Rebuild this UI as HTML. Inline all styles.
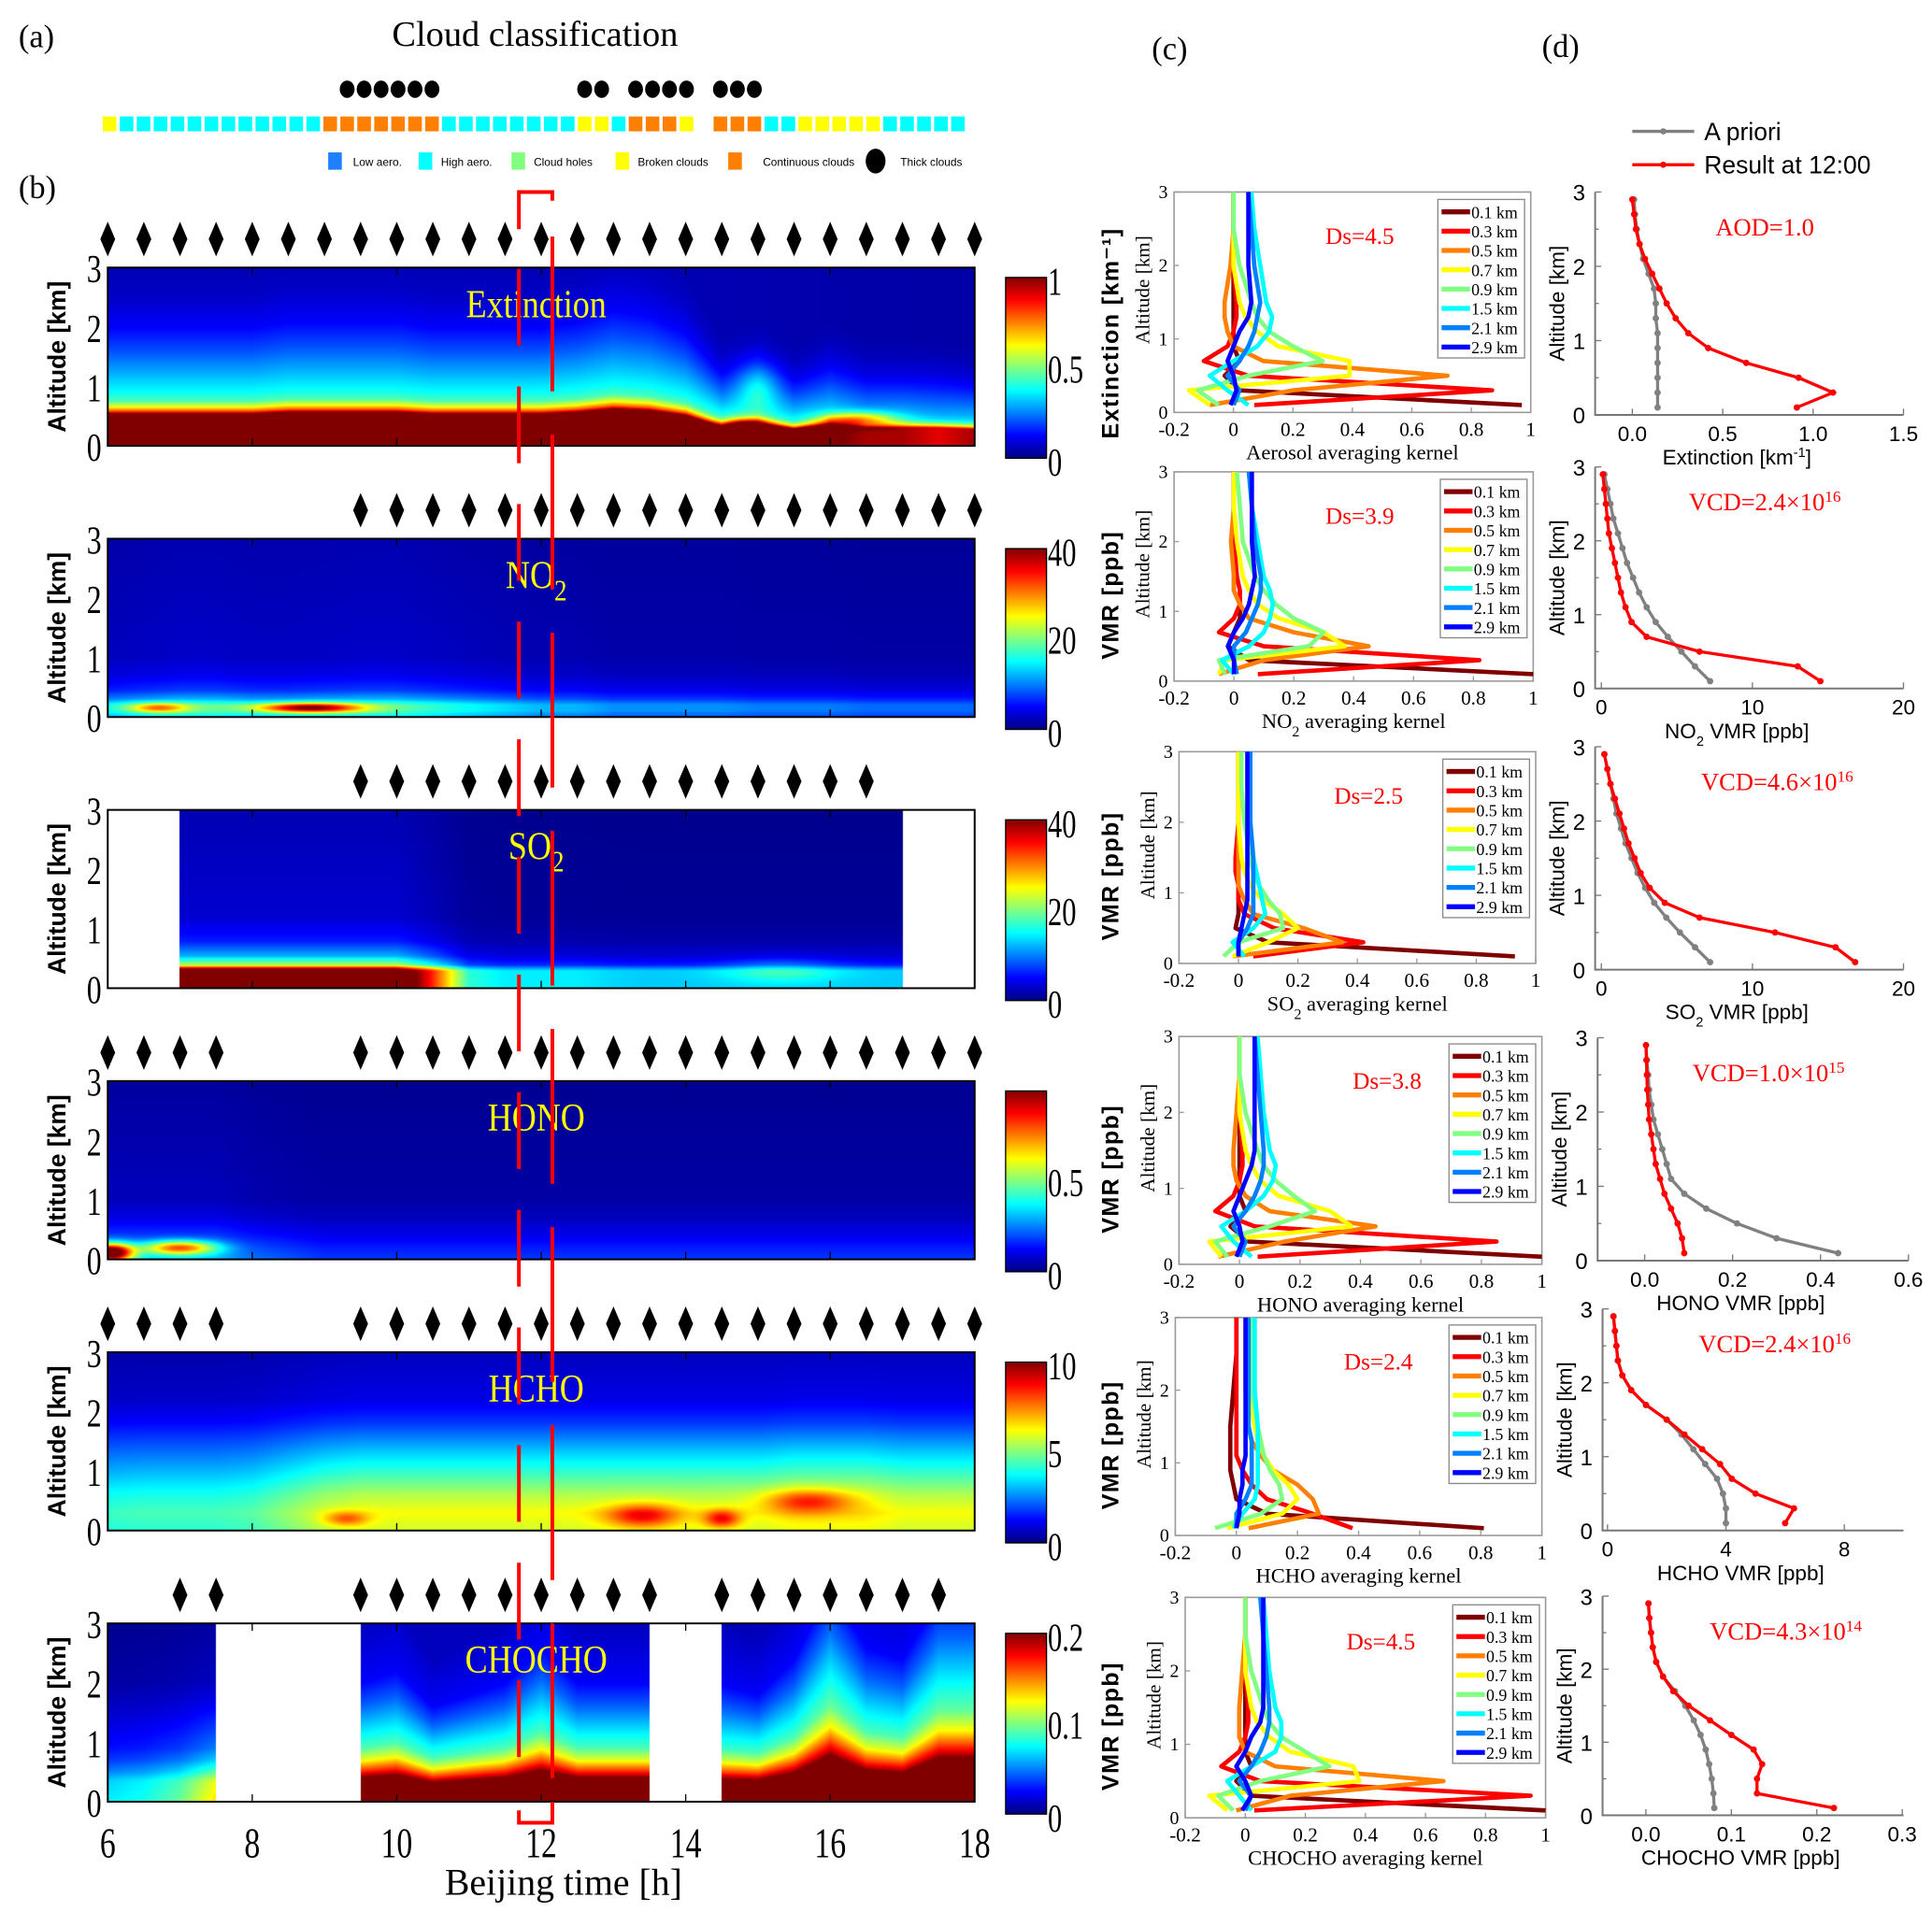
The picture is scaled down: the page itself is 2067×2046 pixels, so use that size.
<!DOCTYPE html>
<html><head><meta charset="utf-8"><style>
html,body{margin:0;padding:0;background:#fff}
#wrap{position:relative;width:2067px;height:2046px;overflow:hidden}
#wrap canvas{position:absolute}
svg{position:absolute;left:0;top:0}
text{font-family:"Liberation Serif",serif}
.sans{font-family:"Liberation Sans",sans-serif}
</style></head><body>
<div id="wrap">
<svg id="fig" width="2067" height="2046" viewBox="0 0 1560 1544">
<text x="15" y="38" font-size="26">(a)</text>
<text x="432" y="37" font-size="29" text-anchor="middle">Cloud classification</text>
<text x="15" y="160" font-size="26">(b)</text>
<text x="930" y="48" font-size="26">(c)</text>
<text x="1245" y="46" font-size="26">(d)</text>
<g id="cloud"></g>
<g id="cloudLegend" class="sans" font-size="9">
 <rect x="265" y="123" width="11" height="14" fill="#1e7fff"/><text x="285" y="134" class="sans">Low aero.</text>
 <rect x="338" y="123" width="11" height="14" fill="#00ffff"/><text x="356" y="134" class="sans">High aero.</text>
 <rect x="413" y="123" width="11" height="14" fill="#80ff80"/><text x="431" y="134" class="sans">Cloud holes</text>
 <rect x="497" y="123" width="11" height="14" fill="#ffff00"/><text x="515" y="134" class="sans">Broken clouds</text>
 <rect x="588" y="123" width="11" height="14" fill="#ff7f00"/><text x="616" y="134" class="sans">Continuous clouds</text>
 <ellipse cx="707" cy="130" rx="8" ry="10" fill="#000"/><text x="727" y="134" class="sans">Thick clouds</text>
</g>
<g id="heat"></g>
<g id="kern"></g>
<g id="prof"></g>
<g id="dlegend" class="sans">
 <line x1="1318" y1="106" x2="1368" y2="106" stroke="#808080" stroke-width="2.5"/><circle cx="1343" cy="106" r="2.5" fill="#808080"/>
 <text x="1376" y="113" font-size="20" class="sans">A priori</text>
 <line x1="1318" y1="133" x2="1368" y2="133" stroke="#ff0000" stroke-width="2.5"/><circle cx="1343" cy="133" r="2.5" fill="#ff0000"/>
 <text x="1376" y="140" font-size="20" class="sans">Result at 12:00</text>
</g>
<g id="redlines"></g>
<text x="455" y="1530" font-size="30" text-anchor="middle">Beijing time [h]</text>
</svg>
</div>
<script>
// ---------- data ----------
const cloudCodes = ["Y","C","C","C","C","C","C","C","C","C","C","C","C","O","O","O","O","O","O","O","C","C","C","C","C","C","C","C","Y","Y","C","O","O","O","Y","","O","O","O","C","C","Y","Y","Y","Y","Y","C","C","C","C","C"];
const thickIdx = [14,15,16,17,18,19,28,29,31,32,33,34,36,37,38];
const halfHours = [6,6.5,7,7.5,8,8.5,9,9.5,10,10.5,11,11.5,12,12.5,13,13.5,14,14.5,15,15.5,16,16.5,17,17.5,18];
const diamonds1 = [6,6.5,7,7.5,8,8.5,9,9.5,10,10.5,11,11.5,12,12.5,13,13.5,14,14.5,15,15.5,16,16.5,17,17.5,18];
const diamonds2 = [9.5,10,10.5,11,11.5,12,12.5,13,13.5,14,14.5,15,15.5,16,16.5,17,17.5,18];
const diamonds3 = [9.5,10,10.5,11,11.5,12,12.5,13,13.5,14,14.5,15,15.5,16,16.5];
const diamonds4 = [6,6.5,7,7.5,9.5,10,10.5,11,11.5,12,12.5,13,13.5,14,14.5,15,15.5,16,16.5,17,17.5,18];
const diamonds5 = [6,6.5,7,7.5,9.5,10,10.5,11,11.5,12,12.5,13,13.5,14,14.5,15,15.5,16,16.5,17,17.5,18];
const diamonds6 = [7,7.5,9.5,10,10.5,11,11.5,12,12.5,13,13.5,14.5,15,15.5,16,16.5,17,17.5];
const timeTicks = [6,8,10,12,14,16,18];

// heatmap profiles (normalized colour value vs altitude)
const extZ = [0,0.5,0.58,0.65,0.75,0.9,1.2,1.6,2.0,2.5,3.0];
const extV = [1.2,1.2,0.8,0.62,0.45,0.38,0.3,0.2,0.12,0.07,0.05];
const extAmp = [1,1,1,1,1,1,1,1,1,1,1,1,1,1,1,1,1,1,0.95,0.9,0.85,0.8,0.8,0.75,0.8];
const extScale = [1,1,1,1,1,1.05,1.05,1.05,1.05,1,1,1,1,1.05,1.15,1.1,0.95,0.6,0.7,0.55,0.7,0.6,0.6,0.6,0.55];
const extBlobs = [[15,1.0,0.15,0.3,0.4],[14.8,0.3,0.4,0.3,0.15],[16.4,0.45,0.35,0.5,0.12]];
const no2Z = [0,0.1,0.2,0.3,0.45,0.7,1.0,3.0];
const no2V = [0.3,0.38,0.38,0.25,0.15,0.09,0.06,0.04];
const no2Amp = [1,1.1,1.2,1.2,1.1,1.1,1.15,1.2,1.2,1.1,1,0.9,0.8,0.8,0.7,0.7,0.7,0.7,0.65,0.65,0.65,0.6,0.6,0.6,0.6];
const no2Scale = [1,1,1,1,1,1,1,1,1,1,1,1,1,1,1,1,1,1,1,1,1,1,1,1,1];
const no2Blobs = [[6.7,0.15,0.35,0.4,0.08],[8.8,0.15,0.6,0.7,0.08]];
const so2Z = [0,0.08,0.3,0.4,0.55,0.8,1.2,3.0];
const so2V = [1.2,1.2,1.2,0.55,0.3,0.15,0.08,0.05];
const so2Amp = [1,1,1,1,1,1,1,1,1,0.7,0.35,0.3,0.3,0.3,0.28,0.27,0.27,0.27,0.27,0.27,0.27,0.27,0.27,0.27,0.27];
const so2Scale = [1,1,1,1,1,1,1,1,1,1,1,1,1,1,1,1,1,1,1,1,1,1,1,1,1];
const so2Blobs = [[15.3,0.3,0.12,0.8,0.2]];
const honoZ = [0,0.2,0.4,0.7,1.0,3.0];
const honoV = [0.3,0.25,0.18,0.1,0.06,0.03];
const honoAmp = [1,1,1,1,0.8,0.7,0.6,0.6,0.6,0.6,0.6,0.6,0.6,0.6,0.6,0.6,0.6,0.6,0.6,0.6,0.6,0.6,0.6,0.6,0.6];
const honoScale = [1,1,1,1,1,1,1,1,1,1,1,1,1,1,1,1,1,1,1,1,1,1,1,1,1];
const honoBlobs = [[6.05,0.12,0.9,0.3,0.15],[7.0,0.2,0.55,0.5,0.12]];
const hchoZ = [0,0.3,0.6,1.0,1.4,1.8,2.2,3.0];
const hchoV = [0.58,0.62,0.55,0.42,0.3,0.18,0.1,0.06];
const hchoAmp = [0.7,0.72,0.72,0.72,0.75,0.85,0.95,1,1,1,1,1,1,1,1,1,1,1,1,1.05,1.05,1.05,1,1,1];
const hchoScale = [1,1,1,1,1,1,1,1,1,1,1,1,1,1,1,1,1,1,1,1,1,1,1,1,1];
const hchoBlobs = [[9.3,0.2,0.2,0.3,0.12],[13.4,0.25,0.28,0.5,0.2],[14.5,0.2,0.28,0.25,0.15],[15.7,0.5,0.25,0.6,0.2]];
const chZ = [0,0.35,0.5,0.7,0.9,1.2,1.6,2.0,3.0];
const chV = [1.2,1.1,0.85,0.6,0.45,0.35,0.22,0.12,0.06];
const chAmp = [0.3,0.33,0.4,0.55,0,0,0,1,1,1,1,1,1,1,1,1,0,0.95,1,1,1.05,1,1,1.05,1.05];
const chScale = [1,1,1,1,1,1,1,1,1.1,0.8,0.9,1,1.3,1,1,1,1,1,0.9,1.2,1.8,1.3,1.2,1.7,1.7];
const chBlobs = [];
const cbTop = ["1","40","40","","10","0.2"];
const cbMid = ["0.5","20","20","0.5","5","0.1"];

// averaging kernels
const kAlt = [0.1,0.3,0.5,0.7,0.9,1.1,1.3,1.5,2.0,2.5,3.0];
const kLabels = ["0.1 km","0.3 km","0.5 km","0.7 km","0.9 km","1.5 km","2.1 km","2.9 km"];
const kDs = ["Ds=4.5","Ds=3.9","Ds=2.5","Ds=3.8","Ds=2.4","Ds=4.5"];
const kAer = [[0.97,0.02,-0.03,0.02,0,0,0,0,0,0,0],[0.07,0.87,0.05,-0.1,-0.02,0,0.01,0.01,0,0,0],[-0.08,0.2,0.72,0.1,0,-0.02,-0.03,-0.03,-0.01,0,0],[-0.08,-0.15,0.39,0.39,0.15,0.08,0.04,0.02,0,0,0],[-0.05,-0.12,0.05,0.3,0.2,0.12,0.08,0.06,0.02,0,0],[0.05,-0.02,-0.08,0,0.08,0.12,0.13,0.11,0.09,0.07,0.06],[0,0.02,-0.02,0.02,0.05,0.07,0.08,0.09,0.07,0.06,0.05],[-0.01,0.01,0,-0.02,0,0.02,0.05,0.06,0.05,0.05,0.05]];
const kNo2 = [[1.0,0.05,-0.02,0,0.02,0.02,0,0,0,0,0],[0.08,0.82,0.1,-0.05,0,0.02,0.02,0.01,0,0,0],[-0.05,0.1,0.45,0.2,0.05,0.02,0,0,-0.01,0,0],[-0.05,-0.03,0.37,0.3,0.15,0.08,0.05,0.03,0.01,0,0],[-0.03,-0.05,0.25,0.3,0.2,0.14,0.1,0.07,0.03,0.02,0.01],[0,-0.04,0.05,0.1,0.12,0.13,0.12,0.1,0.08,0.06,0.05],[0.01,0,0,0.04,0.06,0.08,0.09,0.09,0.07,0.06,0.05],[0,0,-0.02,0,0.03,0.05,0.06,0.07,0.06,0.06,0.06]];
const kSo2 = [[0.93,0.1,-0.01,0,0,0,0,0,0,0,0],[0.05,0.42,0.12,0.02,0,0,-0.01,-0.01,0,0,0],[-0.02,0.35,0.22,0.05,0.02,0,0,0,0,0,0],[-0.02,0.1,0.2,0.15,0.08,0.04,0.02,0.01,0,0,0],[-0.05,0,0.15,0.14,0.1,0.07,0.05,0.04,0.02,0.01,0.01],[0.02,-0.02,0.05,0.09,0.08,0.07,0.06,0.05,0.04,0.03,0.03],[0,0,0.03,0.05,0.05,0.05,0.05,0.05,0.04,0.04,0.04],[0,0,0.01,0.02,0.03,0.03,0.03,0.03,0.03,0.03,0.03]];
const kHono = [[1.0,0.03,-0.03,0.02,0,0,0,0,0,0,0],[0.06,0.85,0.05,-0.08,-0.02,0,0.01,0.01,0,0,0],[-0.07,0.15,0.45,0.1,0.02,-0.01,-0.02,-0.02,-0.01,0,0],[-0.06,-0.1,0.37,0.3,0.13,0.07,0.04,0.02,0,0,0],[-0.04,-0.08,0.1,0.25,0.18,0.12,0.08,0.06,0.02,0,0],[0.04,-0.02,-0.06,0.02,0.08,0.11,0.12,0.1,0.08,0.07,0.06],[0,0.02,-0.02,0.02,0.05,0.07,0.08,0.08,0.07,0.06,0.05],[-0.01,0.01,0,-0.02,0,0.02,0.04,0.05,0.05,0.05,0.05]];
const kHcho = [[0.81,0.1,0,-0.01,-0.02,-0.02,-0.02,-0.02,-0.01,0,0],[0.38,0.25,0.1,0.05,0.02,0,0,0,0,0,0],[0.04,0.27,0.25,0.2,0.12,0.08,0.05,0.04,0.03,0.03,0.03],[-0.03,0.15,0.2,0.17,0.12,0.09,0.07,0.06,0.04,0.04,0.04],[-0.07,0.08,0.15,0.14,0.11,0.09,0.08,0.07,0.05,0.05,0.05],[-0.01,0.02,0.06,0.07,0.07,0.07,0.07,0.07,0.06,0.06,0.06],[0,0,0.03,0.05,0.05,0.05,0.05,0.04,0.04,0.04,0.04],[0,0.01,0.01,0.02,0.02,0.03,0.03,0.03,0.03,0.03,0.03]];
const kCh = [[1.0,0.02,-0.03,0.02,0,0,0,0,0,0,0],[0.03,0.95,0.05,-0.08,-0.02,0,0.01,0.01,0,0,0],[-0.03,0.15,0.66,0.1,0,-0.02,-0.02,-0.02,-0.01,0,0],[-0.06,-0.12,0.38,0.36,0.15,0.08,0.04,0.02,0,0,0],[-0.04,-0.09,0.05,0.28,0.2,0.12,0.08,0.06,0.02,0,0],[0.02,-0.02,-0.06,0.02,0.1,0.12,0.12,0.1,0.08,0.07,0.06],[0,0.02,-0.02,0.02,0.05,0.07,0.08,0.08,0.07,0.06,0.05],[-0.01,0.02,0,-0.03,0,0.02,0.05,0.06,0.06,0.06,0.06]];
const kXTicks = ["-0.2","0","0.2","0.4","0.6","0.8","1"];

// retrieved profiles
const pAlt = [0.1,0.3,0.5,0.7,0.9,1.1,1.3,1.5,1.7,1.9,2.1,2.3,2.5,2.7,2.9];
const aerPri = [0.14,0.14,0.14,0.14,0.14,0.14,0.13,0.13,0.12,0.09,0.06,0.04,0.025,0.015,0.01];
const aerRes = [0.91,1.11,0.92,0.63,0.42,0.31,0.24,0.19,0.15,0.11,0.07,0.04,0.02,0.01,0.0];
const no2Pri = [7.2,6.2,5.3,4.4,3.6,3.0,2.5,2.1,1.7,1.4,1.1,0.8,0.6,0.4,0.2];
const no2Res = [14.5,13,6.5,3,2.0,1.6,1.3,1.1,0.9,0.7,0.5,0.4,0.3,0.2,0.1];
const so2Pri = [7.2,6.2,5.2,4.3,3.5,2.9,2.4,2.0,1.6,1.3,1.0,0.8,0.6,0.4,0.2];
const so2Res = [16.8,15.5,11.5,6.5,4.2,3.2,2.6,2.2,1.8,1.5,1.2,0.9,0.6,0.4,0.2];
const honoPri = [0.44,0.3,0.21,0.14,0.09,0.06,0.05,0.04,0.03,0.02,0.015,0.01,0.008,0.005,0.003];
const honoRes = [0.09,0.085,0.075,0.06,0.045,0.035,0.025,0.02,0.015,0.01,0.008,0.006,0.005,0.004,0.003];
const hchoPri = [4.0,4.0,3.9,3.7,3.3,2.9,2.5,2.0,1.3,0.8,0.5,0.35,0.3,0.25,0.2];
const hchoRes = [6.0,6.3,5.0,4.2,3.8,3.2,2.6,2.0,1.3,0.8,0.5,0.35,0.3,0.25,0.2];
const chPri = [0.08,0.079,0.077,0.074,0.07,0.064,0.056,0.046,0.034,0.02,0.012,0.008,0.006,0.004,0.003];
const chRes = [0.22,0.13,0.13,0.136,0.126,0.1,0.075,0.05,0.032,0.02,0.012,0.008,0.006,0.004,0.003];

// ---------- helpers ----------
const NS="http://www.w3.org/2000/svg";
const S=2067/1560;
function mk(tag,attrs,parent){const e=document.createElementNS(NS,tag);for(const k in attrs)e.setAttribute(k,attrs[k]);parent.appendChild(e);return e;}
function clamp(v){return Math.max(0,Math.min(1,v));}
function jet(v){v=clamp(v);return [clamp(1.5-Math.abs(4*v-3)),clamp(1.5-Math.abs(4*v-2)),clamp(1.5-Math.abs(4*v-1))];}
function interp(xs,ys,x){if(x<=xs[0])return ys[0];for(let i=1;i<xs.length;i++){if(x<=xs[i]){const f=(x-xs[i-1])/(xs[i]-xs[i-1]);return ys[i-1]+f*(ys[i]-ys[i-1]);}}return ys[ys.length-1];}

// ---------- cloud classification ----------
const cg=document.getElementById('cloud');
const cColors={Y:"#ffff00",C:"#00ffff",O:"#ff7f00"};
const cx0=83,cPitch=13.7;
cloudCodes.forEach((c,i)=>{ if(!c)return;
 const r=mk('rect',{x:cx0+i*cPitch,y:94,width:11,height:12,fill:cColors[c]},cg);
 
 
});
thickIdx.forEach(i=>{
 const d=mk('ellipse',{cx:cx0+i*cPitch+5.5,cy:72,rx:6,ry:7,fill:"#000"},cg);
 
 
});

// ---------- heatmaps ----------
const hx0=87,hx1=787,hH=144;
const hTops=[216,435,654,873,1092,1311];
const tX=t=>hx0+(t-6)*(hx1-hx0)/12;
const panels=[
 {name:"Extinction",sub:"",Z:extZ,V:extV,A:extAmp,Sc:extScale,B:extBlobs,valid:[[6,18]],dia:diamonds1},
 {name:"NO",sub:"2",Z:no2Z,V:no2V,A:no2Amp,Sc:no2Scale,B:no2Blobs,valid:[[6,18]],dia:diamonds2},
 {name:"SO",sub:"2",Z:so2Z,V:so2V,A:so2Amp,Sc:so2Scale,B:so2Blobs,valid:[[7,17]],dia:diamonds3},
 {name:"HONO",sub:"",Z:honoZ,V:honoV,A:honoAmp,Sc:honoScale,B:honoBlobs,valid:[[6,18]],dia:diamonds4},
 {name:"HCHO",sub:"",Z:hchoZ,V:hchoV,A:hchoAmp,Sc:hchoScale,B:hchoBlobs,valid:[[6,18]],dia:diamonds5},
 {name:"CHOCHO",sub:"",Z:chZ,V:chV,A:chAmp,Sc:chScale,B:chBlobs,valid:[[6,7.5],[9.5,13.5],[14.5,18]],dia:diamonds6}
];
const wrap=document.getElementById('wrap');
const hg=document.getElementById('heat');
panels.forEach((p,pi)=>{
 const top=hTops[pi];
 const cw=Math.round(700*S),ch=Math.round(hH*S);
 const cv=document.createElement('canvas');
 cv.width=cw;cv.height=ch;
 cv.style.left=(hx0*S)+'px';cv.style.top=(top*S)+'px';cv.style.width=cw+'px';cv.style.height=ch+'px';
 
 
 wrap.insertBefore(cv,wrap.firstChild);
 const ctx=cv.getContext('2d');const img=ctx.createImageData(cw,ch);
 for(let px=0;px<cw;px++){
  const t=6+12*(px+0.5)/cw;
  const ok=p.valid.some(v=>t>=v[0]&&t<=v[1]);
  const a=interp(halfHours,p.A,t), sc=interp(halfHours,p.Sc,t);
  for(let py=0;py<ch;py++){
   const z=3*(1-(py+0.5)/ch);
   let rgb=[1,1,1];
   if(ok){
    let v=a*interp(p.Z,p.V,z/sc);
    p.B.forEach(b=>{v+=b[2]*Math.exp(-Math.pow((t-b[0])/b[3],2)-Math.pow((z-b[1])/b[4],2));});
    rgb=jet(v);
   }
   const k=(py*cw+px)*4;img.data[k]=rgb[0]*255;img.data[k+1]=rgb[1]*255;img.data[k+2]=rgb[2]*255;img.data[k+3]=255;
  }
 }
 ctx.putImageData(img,0,0);
 const fr=mk('rect',{x:hx0,y:top,width:hx1-hx0,height:hH,fill:"none",stroke:"#000","stroke-width":1.5},hg);
 
 
 timeTicks.forEach(t=>{
  mk('line',{x1:tX(t),x2:tX(t),y1:top+hH,y2:top+hH-6,stroke:"#000"},hg);
  mk('line',{x1:tX(t),x2:tX(t),y1:top,y2:top+6,stroke:"#000"},hg);
 });
 [0,1,2,3].forEach(v=>{
  const y=top+hH-v*hH/3;
  const tl=mk('text',{x:82,y:y+12,"font-size":32,"text-anchor":"end"},hg);
  tl.setAttribute('transform',`matrix(0.75,0,0,1,${82*0.25},0)`);
  tl.textContent=v;
  
  
 });
 const yl=mk('text',{x:0,y:0,"font-size":20,"font-weight":"bold","text-anchor":"middle",class:"sans",transform:`translate(53,${top+hH/2}) rotate(-90)`},hg);
 yl.textContent="Altitude [km]";
 
 
 const tt=mk('text',{x:433,y:top+40,"font-size":32,fill:"#ffff00","text-anchor":"middle",transform:`matrix(0.85,0,0,1,${433*0.15},0)`},hg);
 tt.textContent=p.name;
 if(p.sub){const s=mk('tspan',{"baseline-shift":"-40%","font-size":24},tt);s.textContent=p.sub;}
 
 
 p.dia.forEach(t=>{
  const x=tX(t),y=top-23;
  const d=mk('polygon',{points:`${x},${y-14} ${x+6},${y} ${x},${y+14} ${x-6},${y}`,fill:"#000"},hg);
  
  
 });
 const cbt=top+8,cbb=top+154;
 const gid='jet'+pi;
 const lg=mk('linearGradient',{id:gid,x1:0,y1:1,x2:0,y2:0},hg);
 for(let i=0;i<=8;i++){const c=jet(i/8);mk('stop',{offset:i/8,"stop-color":`rgb(${c.map(x=>Math.round(x*255)).join(',')})`},lg);}
 const cb=mk('rect',{x:812,y:cbt,width:33,height:cbb-cbt,fill:`url(#${gid})`,stroke:"#000","stroke-width":1},hg);
 
 
 [[cbTop[pi],cbt+14],[cbMid[pi],(cbt+cbb)/2+12],["0",cbb+14]].forEach(l=>{
  if(!l[0])return;
  const tx=mk('text',{x:846,y:l[1],"font-size":32,transform:`matrix(0.72,0,0,1,${846*0.28},0)`},hg);
  tx.textContent=l[0];
  
  
 });
});
timeTicks.forEach(t=>{
 const tx=mk('text',{x:tX(t),y:1500,"font-size":34,"text-anchor":"middle",transform:`matrix(0.75,0,0,1,${tX(t)*0.25},0)`},hg);
 tx.textContent=t;
 
 
});

// red noon markers
const rg=document.getElementById('redlines');
[[419,217,"62,33"],[446,191,"125,35"]].forEach(l=>{
 const ln=mk('line',{x1:l[0],x2:l[0],y1:l[1],y2:1445,stroke:"#ff0000","stroke-width":3,"stroke-dasharray":l[2]},rg);
 
 
});
const bt=mk('polyline',{points:"419,185 419,155 446,155 446,162",fill:"none",stroke:"#ff0000","stroke-width":3},rg);


const bb=mk('polyline',{points:"419,1462 419,1472 446,1472 446,1455",fill:"none",stroke:"#ff0000","stroke-width":3},rg);



// ---------- averaging kernels ----------
const kg=document.getElementById('kern');
const kColors=["#7f0000","#ff0000","#ff7f00","#ffff00","#80ff80","#00ffff","#007fff","#0000ff"];
const kSets=[kAer,kNo2,kSo2,kHono,kHcho,kCh];
const kGeom=[[948,1236,155,333],[948,1238,381,550],[952,1240,607,778],[952,1245,837,1021],[949,1245,1064,1240],[957,1248,1290,1468]];
const kXl=[["Aerosol  averaging kernel",""],["NO","2"," averaging kernel"],["SO","2"," averaging kernel"],["HONO averaging kernel",""],["HCHO averaging kernel",""],["CHOCHO averaging kernel",""]];
const kLeft=["Extinction [km\u207B\u00B9]","VMR [ppb]","VMR [ppb]","VMR [ppb]","VMR [ppb]","VMR [ppb]"];
const dsX=[1098,1098,1105,1120,1113,1115];
kSets.forEach((set,pi)=>{
 const [L,R,T,B]=kGeom[pi];
 const xs=v=>L+(v+0.2)/1.2*(R-L), ys=z=>B-z/3*(B-T);
 const g=mk('g',{},kg);
 
 
 mk('rect',{x:L,y:T,width:R-L,height:B-T,fill:"#fff",stroke:"#999","stroke-width":1.2},g);
 kXTicks.forEach(s=>{const v=parseFloat(s);mk('line',{x1:xs(v),x2:xs(v),y1:B,y2:B-4,stroke:"#999"},g);
  const tx=mk('text',{x:xs(v),y:B+19,"font-size":16,"text-anchor":"middle"},g);tx.textContent=s;
  
  });
 [0,1,2,3].forEach(v=>{mk('line',{x1:L,x2:L+4,y1:ys(v),y2:ys(v),stroke:"#999"},g);
  const tx=mk('text',{x:L-5,y:ys(v)+5,"font-size":15,"text-anchor":"end"},g);tx.textContent=v;
  
  });
 set.forEach((ser,si)=>{
  const pl=mk('polyline',{points:ser.map((v,i)=>xs(v)+','+ys(kAlt[i])).join(' '),fill:"none",stroke:kColors[si],"stroke-width":3.5,"stroke-linejoin":"round"},g);
  
  
 });
 const lx=R-75,ly=T+6;
 const lb=mk('rect',{x:lx,y:ly,width:70,height:128,fill:"#fff",stroke:"#888"},g);
 
 
 kLabels.forEach((s,i)=>{const y=ly+10+i*15.6;
  mk('line',{x1:lx+3,x2:lx+26,y1:y,y2:y,stroke:kColors[i],"stroke-width":4},g);
  const tx=mk('text',{x:lx+27,y:y+5,"font-size":13.5},g);tx.textContent=s;
  
  });
 const ds=mk('text',{x:dsX[pi],y:T+42,"font-size":19,fill:"#ff0000","text-anchor":"middle"},g);ds.textContent=kDs[pi];
 
 
 const xl=mk('text',{x:(L+R)/2,y:B+38,"font-size":17,"text-anchor":"middle"},g);
 xl.textContent=kXl[pi][0];
 if(kXl[pi][1]){const s=mk('tspan',{"baseline-shift":"sub","font-size":12},xl);s.textContent=kXl[pi][1];const s2=mk('tspan',{},xl);s2.textContent=kXl[pi][2];}
 
 
 const al=mk('text',{x:0,y:0,"font-size":16,"text-anchor":"middle",transform:`translate(${L-20},${(T+B)/2-10}) rotate(-90)`},g);al.textContent="Altitude [km]";
 
 
 const ll=mk('text',{x:0,y:0,"font-size":19,"font-weight":"bold",class:"sans","text-anchor":"middle","letter-spacing":1,transform:`translate(903,${(T+B)/2+(pi==0?25:15)}) rotate(-90)`},g);ll.textContent=kLeft[pi];
 
 
});

// ---------- profiles ----------
const pg=document.getElementById('prof');
const pSets=[[aerPri,aerRes],[no2Pri,no2Res],[so2Pri,so2Res],[honoPri,honoRes],[hchoPri,hchoRes],[chPri,chRes]];
const pGeom=[[1288,1318,146,155,335,1537],[1288,1293,12.2,377,556,1537],[1288,1293,12.2,603,783,1537],[1290,1328,355,838,1018,1541],[1294,1298,23.9,1057,1236,1537],[1294,1329,690,1289,1466,1537]];
const pTicks=[["0.0","0.5","1.0","1.5"],["0","10","20"],["0","10","20"],["0.0","0.2","0.4","0.6"],["0","4","8"],["0.0","0.1","0.2","0.3"]];
const pXl=[["Extinction [km","-1","]"],["NO","2"," VMR [ppb]"],["SO","2"," VMR [ppb]"],["HONO VMR [ppb]"],["HCHO VMR [ppb]"],["CHOCHO VMR [ppb]"]];
const vcd=[["AOD=1.0",""],["VCD=2.4\u00D710","16"],["VCD=4.6\u00D710","16"],["VCD=1.0\u00D710","15"],["VCD=2.4\u00D710","16"],["VCD=4.3\u00D710","14"]];
const vcdX=[1425,1425,1435,1428,1433,1442];
pSets.forEach((set,pi)=>{
 const [AL,X0,PU,T,B,AR]=pGeom[pi];
 const xs=v=>X0+v*PU, ys=z=>B-z/3*(B-T);
 const g=mk('g',{},pg);
 
 
 mk('polyline',{points:`${AL},${T} ${AL},${B} ${AR},${B}`,fill:"none",stroke:"#777","stroke-width":1.5},g);
 [0,0.5,1,1.5,2,2.5,3].forEach(v=>mk('line',{x1:AL,x2:AL+(v%1?3:5),y1:ys(v),y2:ys(v),stroke:"#777"},g));
 [0,1,2,3].forEach(v=>{const tx=mk('text',{x:AL-8,y:ys(v)+7,"font-size":18,"text-anchor":"end",class:"sans"},g);tx.textContent=v;
  
  });
 pTicks[pi].forEach(s=>{const v=parseFloat(s);mk('line',{x1:xs(v),x2:xs(v),y1:B,y2:B-5,stroke:"#777"},g);
  const tx=mk('text',{x:xs(v),y:B+21,"font-size":17,"text-anchor":"middle",class:"sans"},g);tx.textContent=s;
  
  });
 [["#808080",0],["#ff0000",1]].forEach(([col,k])=>{
  const pl=mk('polyline',{points:set[k].map((v,i)=>xs(v)+','+ys(pAlt[i])).join(' '),fill:"none",stroke:col,"stroke-width":2.5},g);
  
  
  set[k].forEach((v,i)=>{const c=mk('circle',{cx:xs(v),cy:ys(pAlt[i]),r:2.6,fill:col},g);
   
   });
 });
 const xl=mk('text',{x:(AL+AR)/2-10,y:B+40,"font-size":17,"text-anchor":"middle",class:"sans"},g);
 xl.textContent=pXl[pi][0];
 if(pXl[pi][1]){const s=mk('tspan',{"baseline-shift":pi==0?"super":"sub","font-size":11},xl);s.textContent=pXl[pi][1];const s2=mk('tspan',{},xl);s2.textContent=pXl[pi][2];}
 
 
 const al=mk('text',{x:0,y:0,"font-size":17,"text-anchor":"middle",class:"sans",transform:`translate(${AL-25},${(T+B)/2}) rotate(-90)`},g);al.textContent="Altitude [km]";
 
 
 const vt=mk('text',{x:vcdX[pi],y:T+35,"font-size":20,fill:"#ff0000","text-anchor":"middle"},g);vt.textContent=vcd[pi][0];
 if(vcd[pi][1]){const s=mk('tspan',{"baseline-shift":"super","font-size":13},vt);s.textContent=vcd[pi][1];}
 
 
});
</script>
</body></html>
